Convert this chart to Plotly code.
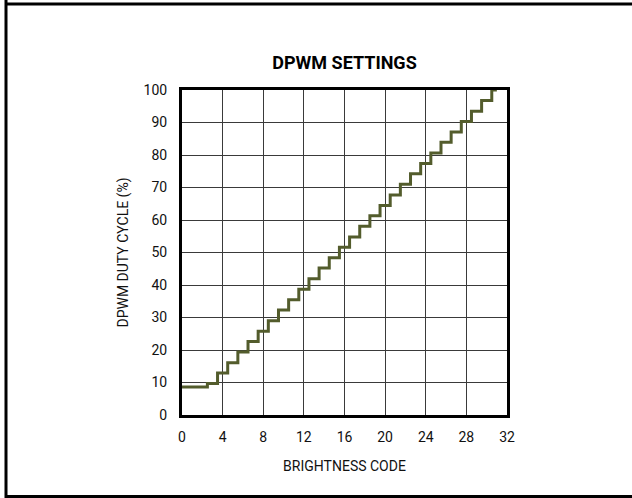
import plotly.graph_objects as go

brightness_code = list(range(32))
duty_cycle = [8.6, 8.6, 8.6, 9.7, 12.9, 16.1, 19.4, 22.6, 25.8, 29.0, 32.3, 35.5,
              38.7, 41.9, 45.2, 48.4, 51.6, 54.8, 58.1, 61.3, 64.5, 67.7, 71.0, 74.2,
              77.4, 80.6, 83.9, 87.1, 90.3, 93.5, 96.8, 100.0]
x_ticks = [0, 4, 8, 12, 16, 20, 24, 28, 32]
y_ticks = [0, 10, 20, 30, 40, 50, 60, 70, 80, 90, 100]

FONT = "Liberation Sans Narrow, Arial Narrow, Roboto, sans-serif"

fig = go.Figure()
fig.add_trace(go.Scatter(
    x=brightness_code, y=duty_cycle, mode="lines",
    line=dict(shape="hvh", color="#535c2c", width=3),
    showlegend=False, hoverinfo="skip",
))

L, R, T, B = 182, 125, 90, 83
W, H = 632, 498
pw, ph = W - L - R, H - T - B

def px_x(p):
    return (p - L) / pw

def px_y(p):
    return (H - B - p) / ph

frame = dict(color="black", width=3)
fig.update_layout(
    width=W, height=H,
    margin=dict(l=L, r=R, t=T, b=B),
    paper_bgcolor="white", plot_bgcolor="white",
    font=dict(family=FONT, size=14, color="#111"),
    title=dict(text="<b>DPWM SETTINGS</b>", x=0.5, xref="paper",
               y=1 - 63 / H, yref="container", xanchor="center", yanchor="middle",
               font=dict(family=FONT, size=18, color="black")),
    xaxis=dict(range=[0, 32], tickvals=x_ticks, ticks="", showgrid=True,
               gridcolor="#3a3a3a", gridwidth=1, zeroline=False,
               showline=True, linecolor="black", linewidth=3, mirror=True,
               ticklabelstandoff=7,
               title=dict(text="BRIGHTNESS CODE", standoff=18,
                          font=dict(family=FONT, size=14))),
    yaxis=dict(range=[0, 100], tickvals=y_ticks, ticks="", showgrid=True,
               gridcolor="#3a3a3a", gridwidth=1, zeroline=False,
               showline=True, linecolor="black", linewidth=3, mirror=True,
               ticklabelstandoff=9,
               title=dict(text="DPWM DUTY CYCLE (%)", standoff=12,
                          font=dict(family=FONT, size=14))),
    shapes=[
        dict(type="line", xref="paper", yref="paper",
             x0=px_x(6), x1=px_x(632), y0=px_y(4), y1=px_y(4), line=frame),
        dict(type="line", xref="paper", yref="paper",
             x0=px_x(6), x1=px_x(632), y0=px_y(496.5), y1=px_y(496.5), line=frame),
        dict(type="line", xref="paper", yref="paper",
             x0=px_x(6), x1=px_x(6), y0=px_y(0), y1=px_y(500), line=frame),
    ],
)

fig.write_html(
    "out.html",
    post_script="document.body.style.margin='0px';"
                "document.documentElement.style.overflow='hidden';"
                "window.scrollTo(0,0);",
    config={"displayModeBar": False},
)
